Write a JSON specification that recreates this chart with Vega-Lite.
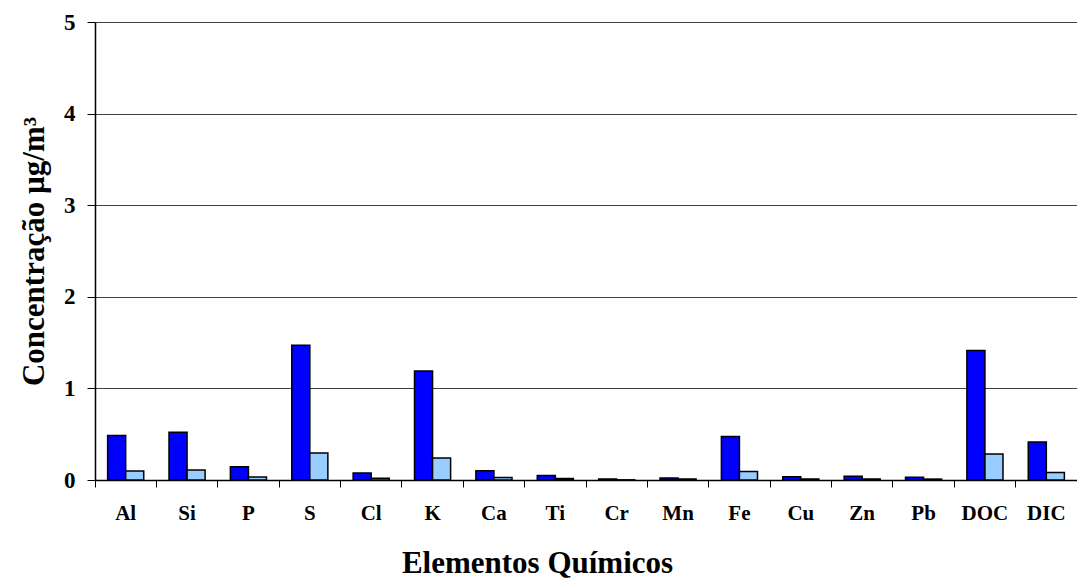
{
  "$schema": "https://vega.github.io/schema/vega-lite/v6.json",
  "autosize": {"type": "none"},
  "padding": {"left": 95, "top": 22, "right": 0, "bottom": 98},
  "width": 982,
  "height": 458,
  "background": "white",
  "config": {"view": {"stroke": null}, "font": "Liberation Serif"},
  "data": {"values": [
    {"el": "Al", "serie": "Série 1", "v": 0.487}, {"el": "Al", "serie": "Série 2", "v": 0.098},
    {"el": "Si", "serie": "Série 1", "v": 0.52}, {"el": "Si", "serie": "Série 2", "v": 0.109},
    {"el": "P", "serie": "Série 1", "v": 0.145}, {"el": "P", "serie": "Série 2", "v": 0.033},
    {"el": "S", "serie": "Série 1", "v": 1.47}, {"el": "S", "serie": "Série 2", "v": 0.295},
    {"el": "Cl", "serie": "Série 1", "v": 0.076}, {"el": "Cl", "serie": "Série 2", "v": 0.02},
    {"el": "K", "serie": "Série 1", "v": 1.19}, {"el": "K", "serie": "Série 2", "v": 0.24},
    {"el": "Ca", "serie": "Série 1", "v": 0.10}, {"el": "Ca", "serie": "Série 2", "v": 0.028},
    {"el": "Ti", "serie": "Série 1", "v": 0.05}, {"el": "Ti", "serie": "Série 2", "v": 0.017},
    {"el": "Cr", "serie": "Série 1", "v": 0.011}, {"el": "Cr", "serie": "Série 2", "v": 0.002},
    {"el": "Mn", "serie": "Série 1", "v": 0.022}, {"el": "Mn", "serie": "Série 2", "v": 0.011},
    {"el": "Fe", "serie": "Série 1", "v": 0.476}, {"el": "Fe", "serie": "Série 2", "v": 0.094},
    {"el": "Cu", "serie": "Série 1", "v": 0.036}, {"el": "Cu", "serie": "Série 2", "v": 0.011},
    {"el": "Zn", "serie": "Série 1", "v": 0.04}, {"el": "Zn", "serie": "Série 2", "v": 0.011},
    {"el": "Pb", "serie": "Série 1", "v": 0.03}, {"el": "Pb", "serie": "Série 2", "v": 0.01},
    {"el": "DOC", "serie": "Série 1", "v": 1.415}, {"el": "DOC", "serie": "Série 2", "v": 0.284},
    {"el": "DIC", "serie": "Série 1", "v": 0.415}, {"el": "DIC", "serie": "Série 2", "v": 0.082}
  ]},
  "mark": {"type": "bar", "stroke": "black", "strokeWidth": 1.5},
  "encoding": {
    "x": {
      "field": "el", "type": "nominal", "sort": null,
      "scale": {"paddingInner": 0, "paddingOuter": 0},
      "axis": {
        "title": "Elementos Químicos",
        "titleFont": "Liberation Serif", "titleFontSize": 31, "titleFontWeight": "bold", "titleColor": "black",
        "titleX": 442, "titleY": 92, "titleBaseline": "alphabetic", "titleAlign": "center",
        "labelFont": "Liberation Serif", "labelFontSize": 21, "labelFontWeight": "bold", "labelColor": "black",
        "labelAngle": 0, "labelPadding": 15,
        "bandPosition": 0, "tickSize": 7, "tickColor": "black", "tickWidth": 1,
        "domainColor": "black", "domainWidth": 1.5, "grid": false
      }
    },
    "xOffset": {"field": "serie", "type": "nominal", "scale": {"paddingInner": 0, "paddingOuter": 0.7}},
    "y": {
      "field": "v", "type": "quantitative",
      "scale": {"domain": [0, 5], "nice": false},
      "axis": {
        "title": "Concentração µg/m³",
        "titleFont": "Liberation Serif", "titleFontSize": 31, "titleFontWeight": "bold", "titleColor": "black",
        "titleAngle": -90, "titleX": -52, "titleY": 229, "titleBaseline": "alphabetic", "titleAlign": "center",
        "values": [0, 1, 2, 3, 4, 5], "format": "d",
        "labelFont": "Liberation Serif", "labelFontSize": 23, "labelFontWeight": "bold", "labelColor": "black",
        "labelPadding": 12, "labelBaseline": "middle",
        "tickSize": 8, "tickColor": "black", "tickWidth": 1,
        "domainColor": "black", "domainWidth": 1.5,
        "grid": true, "gridColor": "#404040", "gridWidth": 1
      }
    },
    "color": {
      "field": "serie", "type": "nominal",
      "scale": {"domain": ["Série 1", "Série 2"], "range": ["#0000FF", "#99CCFF"]},
      "legend": null
    }
  }
}
